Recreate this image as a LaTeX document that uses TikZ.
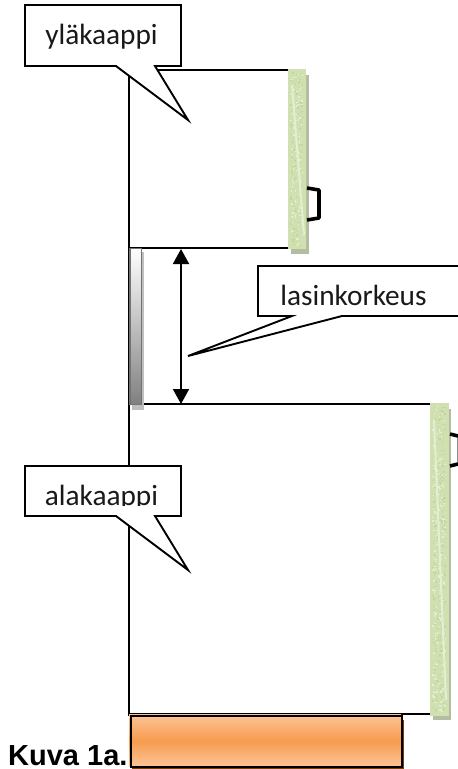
\documentclass[tikz,border=0pt]{standalone}
\usepackage{fontspec}
\setmainfont{Carlito}
\newfontfamily\capfont{Liberation Sans}
\usetikzlibrary{arrows.meta}
\definecolor{doorgreen}{HTML}{D0E0B0}
\definecolor{doorlight}{HTML}{E4EED3}
\definecolor{doordark}{HTML}{C2D6A0}
\definecolor{doorshadow}{HTML}{B4BCA2}
\definecolor{plinth}{HTML}{F79B4F}
\definecolor{plinthlt}{HTML}{FBC596}
\definecolor{plinthsh}{HTML}{7F3F00}
\tikzset{
  wall/.style={draw=black,line width=1.9pt},
  bubble/.style={draw=black,fill=white,line width=1.9pt,line join=miter},
  bubbletext/.style={font=\fontsize{29.3}{29.3}\selectfont,text=black!90,inner sep=0pt,anchor=base},
  doorshade/.style={fill=doorshadow},
  doorbody/.style={fill=doorgreen},
  doorshine/.style={draw=doorlight,line width=2pt},
  handle/.style={draw=black,line width=3.6pt,line join=round},
  dim/.style={draw=black,line width=1.9pt,{Triangle[length=15pt,width=16pt]}-{Triangle[length=15pt,width=16pt]}},
}
\pgfmathsetseed{7}
\newcommand{\speckle}[4]{% x0 y0 width height
  \pgfmathtruncatemacro{\nspk}{#3*#4/10}
  \foreach \i in {1,...,\nspk}{
    \pgfmathsetmacro{\sx}{#1+rnd*(#3-2)}
    \pgfmathsetmacro{\sy}{#2+rnd*(#4-2)}
    \pgfmathparse{rnd>0.5?1:0}
    \ifnum\pgfmathresult=1 \fill[doorlight] (\sx,\sy) rectangle ++(1.5,1.5);
    \else \fill[doordark] (\sx,\sy) rectangle ++(1.5,1.5);\fi
  }}
\begin{document}
\begin{tikzpicture}[x=1pt,y=-1pt]
\useasboundingbox (0,0) rectangle (458,769);
% cabinet lines
\coordinate (wt) at (129,70);
\coordinate (wb) at (129,716);
\coordinate (ut) at (288,70);
\coordinate (ub) at (288,248);
\coordinate (ul) at (129,248);
\coordinate (lt) at (431,404);
\coordinate (ll) at (129,404);
\coordinate (fr) at (431,714);
\coordinate (fl) at (129,714);
\draw[wall] (wt) -- (wb);
\draw[wall] (128,70) -- (ut);
\draw[wall] (ul) -- (ub);
\draw[wall] (ll) -- (lt);
\draw[wall] (fl) -- (fr);
% upper door
\fill[doorshade] (291,75) rectangle (309,254);
\fill[doorbody] (288,69) rectangle (306,249);
\speckle{290}{71}{14}{176}
\draw[doorshine] (292,85) -- (304,235);
\draw[handle] (307,188) -- (319,190) -- (319,218) -- (307,220);
% glass
\fill[black!25] (132,252) rectangle (144,410);
\shadedraw[top color=white,bottom color=black!50,draw=black!55,line width=1.9pt] (130,248.5) rectangle (141.5,404.5);
% lower door
\fill[doorshade] (433,409) rectangle (451,720);
\fill[doorbody] (430,403) rectangle (449,716);
\speckle{432}{405}{15}{309}
\draw[doorshine] (434,420) -- (446,700);
\draw[line width=1pt,black!45] (457.5,436) -- (457.5,464);
\draw[handle] (450,434) -- (458,436);
\draw[handle] (450,466) -- (458,464);
% plinth
\fill[plinthsh] (132,720) rectangle (404,769);
\shade[top color=plinthlt,bottom color=plinth] (129,714) rectangle (401,741);
\shade[top color=plinth,bottom color=plinthlt] (129,741) rectangle (401,766);
\node[draw=black,line width=2.2pt,minimum width=271pt,minimum height=51pt,inner sep=0pt,anchor=north west] (kick) at (129.5,714.5) {};
% dimension arrow
\coordinate (da) at (181,249);
\coordinate (db) at (181,404);
\draw[dim] (da) -- (db);
% callouts
\coordinate (t1) at (188,120);
\draw[bubble] (25,5) -- (181,5) -- (181,66) -- (155,66) -- (t1) -- (116,66) -- (25,66) -- cycle;
\node[bubbletext] (ylakaappi) at (101.5,44) {yläkaappi};
\coordinate (t2) at (188,356);
\draw[bubble] (470,266) -- (258,266) -- (258,316) -- (292,316) -- (t2) -- (342,316) -- (470,316);
\node[bubbletext] (lasin) at (353.5,305) {lasinkorkeus};
\coordinate (t3) at (188,570);
\draw[bubble] (25,466) -- (181,466) -- (181,516) -- (155,516) -- (t3) -- (116,516) -- (25,516) -- cycle;
\begin{scope}
\clip (27,468) rectangle (179,505);
\node[bubbletext] (alakaappi) at (101.5,505) {alakaappi};
\end{scope}
\node[font=\capfont\bfseries\fontsize{29}{29}\selectfont,inner sep=0pt,anchor=base west] (cap) at (8,765.5) {Kuva 1a.};
\end{tikzpicture}
\end{document}
